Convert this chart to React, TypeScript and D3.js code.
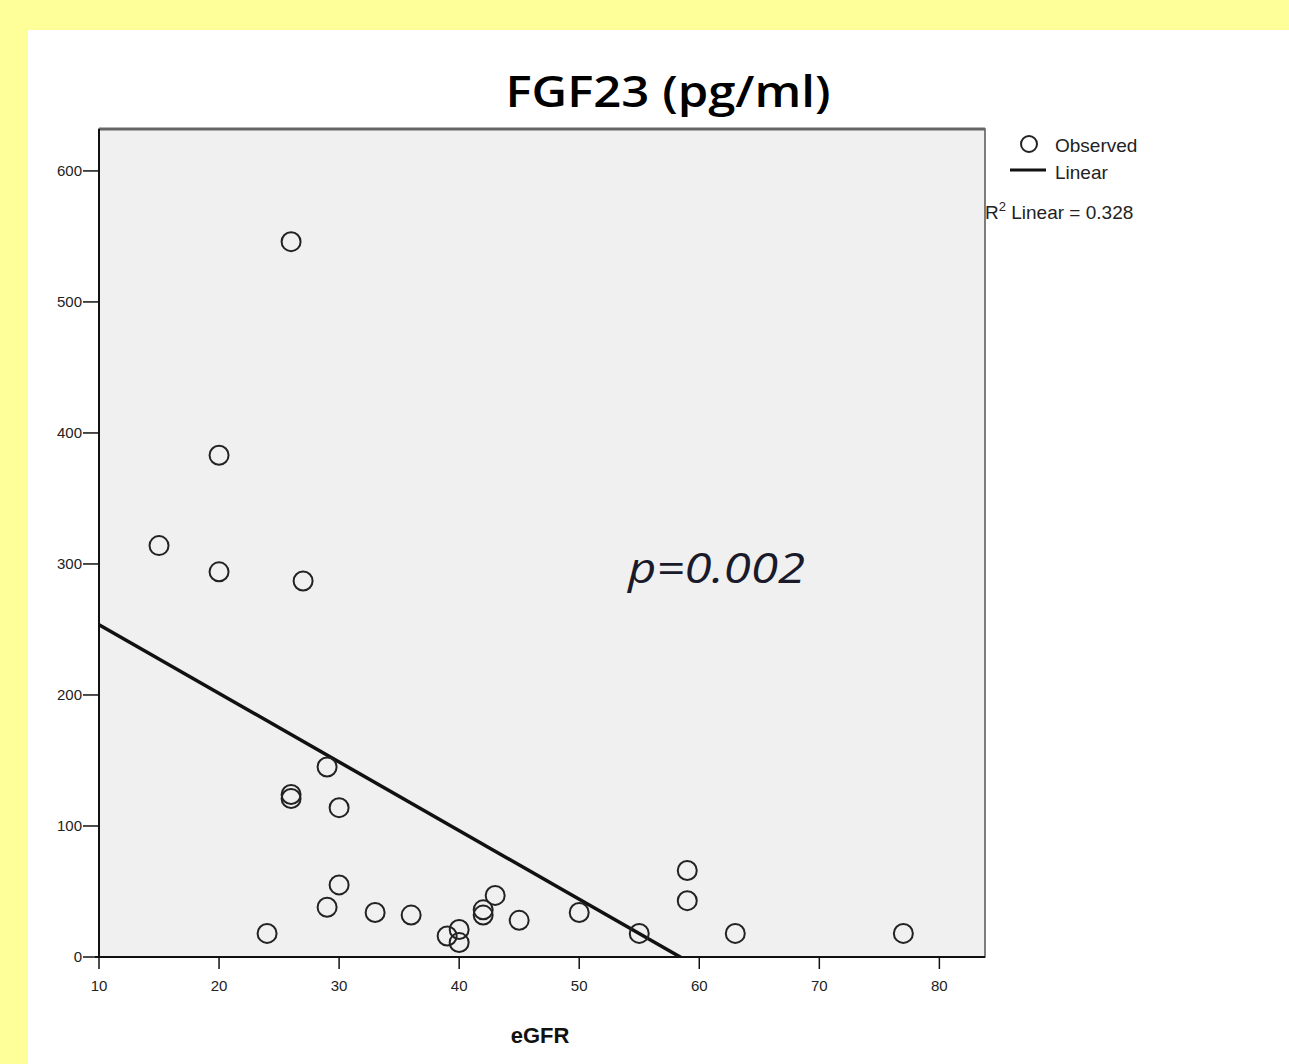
import React from "react";
import * as d3 from "d3";

const egfr = [26, 20, 15, 20, 27, 29, 26, 26, 30, 30, 29, 24, 33, 36, 39, 40, 40, 42, 42, 43, 45, 50, 55, 59, 59, 63, 77];
const fgf23 = [546, 383, 314, 294, 287, 145, 124, 121, 114, 55, 38, 18, 34, 32, 16, 21, 11, 36, 32, 47, 28, 34, 18, 66, 43, 18, 18];

const xTicks = [10, 20, 30, 40, 50, 60, 70, 80];
const yTicks = [0, 100, 200, 300, 400, 500, 600];
const rSquaredLabel = "0.328";

const W = 1289;
const H = 1064;
const plot = { left: 99, top: 129, right: 985, bottom: 957 };

export default function App() {
  const x = d3.scaleLinear().domain([10, 83.8]).range([plot.left, plot.right]);
  const y = d3.scaleLinear().domain([0, 632]).range([plot.bottom, plot.top]);

  // least squares fit line
  const mx = d3.mean(egfr)!;
  const my = d3.mean(fgf23)!;
  const sxy = d3.sum(egfr, (v, i) => (v - mx) * (fgf23[i] - my));
  const sxx = d3.sum(egfr, (v) => (v - mx) * (v - mx));
  const slope = sxy / sxx;
  const icpt = my - slope * mx;
  const fit = d3
    .line<number>()
    .x((d) => x(d))
    .y((d) => y(icpt + slope * d));

  const tickFont = "'Liberation Sans', Arial, sans-serif";

  return (
    <svg width={W} height={H} style={{ position: "absolute", left: 0, top: 0 }}>
      <defs>
        <clipPath id="plotClip">
          <rect x={plot.left} y={plot.top} width={plot.right - plot.left} height={plot.bottom - plot.top} />
        </clipPath>
      </defs>
      <rect x={0} y={0} width={W} height={H} fill="#ffff99" />
      <rect x={28} y={30} width={W - 28} height={H - 30} fill="#ffffff" />

      <text x={668} y={107} textAnchor="middle" fontFamily="'Open Sans', 'Noto Sans', sans-serif"
        fontSize={44} fontWeight={600} textLength={325} lengthAdjust="spacingAndGlyphs" fill="#000">
        FGF23 (pg/ml)
      </text>

      <rect x={plot.left} y={plot.top} width={plot.right - plot.left} height={plot.bottom - plot.top}
        fill="#f0f0f0" stroke="#555" strokeWidth={1.5} />
      <line x1={plot.left} x2={plot.right} y1={plot.top} y2={plot.top} stroke="#666" strokeWidth={3} />

      <g clipPath="url(#plotClip)">
        <path d={fit([x.domain()[0], x.domain()[1]]) || ""} fill="none" stroke="#111" strokeWidth={3.5} />
        {egfr.map((v, i) => (
          <circle key={i} cx={x(v)} cy={y(fgf23[i])} r={9.5} fill="none" stroke="#222" strokeWidth={2} />
        ))}
      </g>

      {/* axes */}
      <line x1={plot.left} x2={plot.left} y1={plot.top} y2={plot.bottom} stroke="#111" strokeWidth={2} />
      <line x1={plot.left - 4} x2={plot.right} y1={plot.bottom} y2={plot.bottom} stroke="#111" strokeWidth={2} />

      {yTicks.map((t) => (
        <g key={t}>
          <line x1={plot.left - 16} x2={plot.left} y1={y(t)} y2={y(t)} stroke="#111" strokeWidth={1.5} />
          <text x={plot.left - 17} y={y(t) + 5} textAnchor="end" fontFamily={tickFont} fontSize={15} fill="#222">
            {t}
          </text>
        </g>
      ))}
      {xTicks.map((t) => (
        <g key={t}>
          <line x1={x(t)} x2={x(t)} y1={plot.bottom} y2={plot.bottom + 12} stroke="#111" strokeWidth={1.5} />
          <text x={x(t)} y={plot.bottom + 34} textAnchor="middle" fontFamily={tickFont} fontSize={15} fill="#222">
            {t}
          </text>
        </g>
      ))}

      <text x={540} y={1043} textAnchor="middle" fontFamily={tickFont} fontSize={22} fontWeight="bold" fill="#111">
        eGFR
      </text>

      <text x={628} y={583} fontFamily="'Open Sans', 'Noto Sans', sans-serif" fontStyle="italic"
        fontSize={42} textLength={177} lengthAdjust="spacingAndGlyphs" fill="#1a1a2a">
        p=0.002
      </text>

      {/* legend */}
      <circle cx={1029} cy={144} r={8} fill="none" stroke="#222" strokeWidth={2} />
      <text x={1055} y={152} fontFamily={tickFont} fontSize={19} fill="#222">Observed</text>
      <line x1={1010} x2={1046} y1={170} y2={170} stroke="#111" strokeWidth={3} />
      <text x={1055} y={179} fontFamily={tickFont} fontSize={19} fill="#222">Linear</text>
      <text x={985} y={219} fontFamily={tickFont} fontSize={19} fill="#222">
        R<tspan dy={-8} fontSize={13}>2</tspan>
        <tspan dy={8}> Linear = {rSquaredLabel}</tspan>
      </text>
    </svg>
  );
}
